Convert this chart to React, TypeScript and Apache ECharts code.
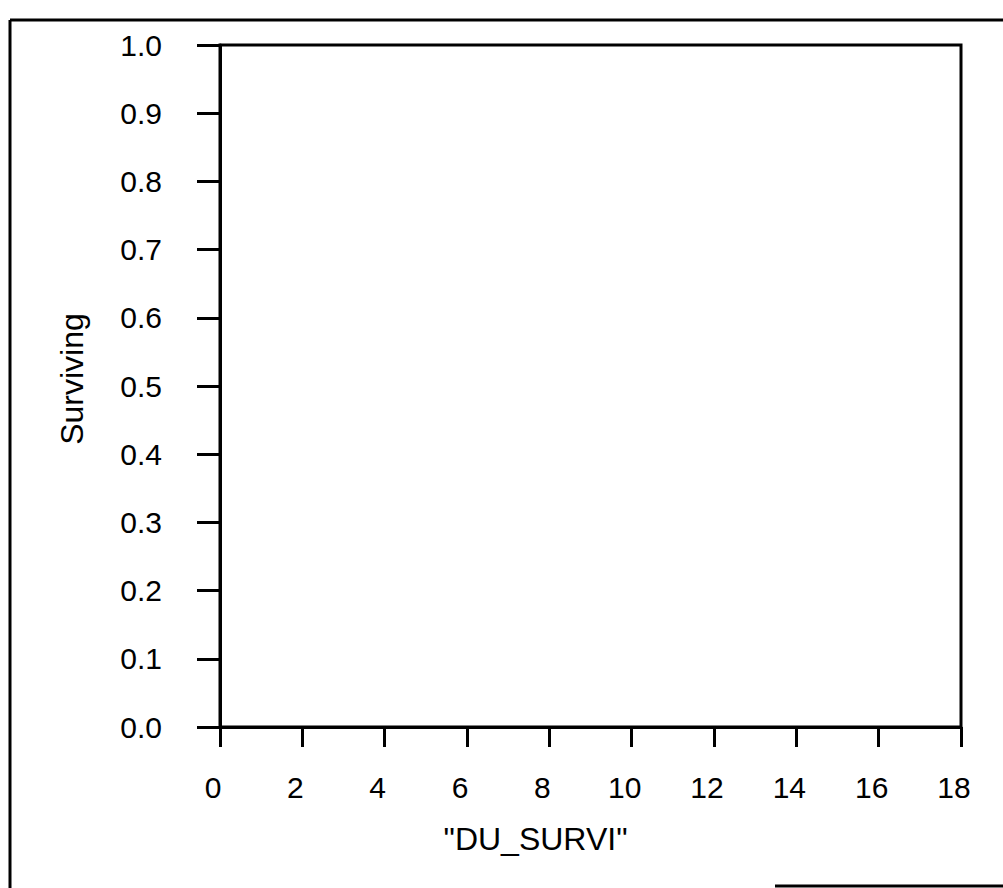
import React, { useEffect, useRef } from "react";
import * as echarts from "echarts";

const xTickValues = [0, 2, 4, 6, 8, 10, 12, 14, 16, 18];
const yTickLabels = ["0.0", "0.1", "0.2", "0.3", "0.4", "0.5", "0.6", "0.7", "0.8", "0.9", "1.0"];
const survivalData: [number, number][] = [];
const xAxisTitle = '"DU_SURVI"';
const yAxisTitle = "Surviving";

export default function App() {
  const ref = useRef<HTMLDivElement>(null);
  useEffect(() => {
    if (!ref.current) return;
    const chart = echarts.init(ref.current, null, { renderer: "svg" });
    const font = "'Liberation Sans', Arial, sans-serif";
    chart.setOption({
      animation: false,
      backgroundColor: "#ffffff",
      grid: {
        left: 220,
        top: 45,
        right: 42,
        bottom: 161,
        show: true,
        borderColor: "#000",
        borderWidth: 3,
        backgroundColor: "transparent",
      },
      xAxis: {
        type: "value",
        min: xTickValues[0],
        max: xTickValues[xTickValues.length - 1],
        interval: 2,
        name: xAxisTitle,
        nameLocation: "middle",
        nameGap: 96,
        nameTextStyle: { fontFamily: font, fontSize: 32, color: "#000", padding: [0, 110, 0, 0] },
        axisLine: { show: true, lineStyle: { color: "#000", width: 3 } },
        axisTick: { show: true, inside: false, length: 20, lineStyle: { color: "#000", width: 3 } },
        axisLabel: {
          margin: 45,
          fontFamily: font,
          fontSize: 30,
          color: "#000",
          padding: [0, 14, 0, 0],
          formatter: (v: number) => (xTickValues.includes(v) ? String(v) : ""),
        },
        splitLine: { show: false },
      },
      yAxis: {
        type: "value",
        min: 0,
        max: 1,
        interval: 0.1,
        name: yAxisTitle,
        nameLocation: "middle",
        nameGap: 132,
        nameRotate: 90,
        nameTextStyle: { fontFamily: font, fontSize: 32, color: "#000", padding: [0, 0, 0, 14] },
        axisLine: { show: true, lineStyle: { color: "#000", width: 3 } },
        axisTick: { show: true, inside: false, length: 23, lineStyle: { color: "#000", width: 3 } },
        axisLabel: {
          margin: 58,
          fontFamily: font,
          fontSize: 30,
          color: "#000",
          padding: [10, 0, 0, 0],
          formatter: (v: number) => yTickLabels[Math.round(v * 10)] ?? "",
        },
        splitLine: { show: false },
      },
      graphic: [
        { type: "line", shape: { x1: 10, y1: 20, x2: 1003, y2: 20 }, style: { stroke: "#000", lineWidth: 3 } },
        { type: "line", shape: { x1: 10, y1: 20, x2: 10, y2: 888 }, style: { stroke: "#000", lineWidth: 3 } },
        { type: "line", shape: { x1: 775, y1: 886, x2: 1003, y2: 886 }, style: { stroke: "#000", lineWidth: 3 } },
      ],
      series: [
        {
          type: "line",
          data: survivalData,
          showSymbol: false,
          lineStyle: { color: "#000", width: 2 },
        },
      ],
    });
    return () => chart.dispose();
  }, []);
  return (
    <div
      ref={ref}
      style={{ position: "absolute", left: 0, top: 0, width: 1003, height: 888, background: "#fff" }}
    />
  );
}
